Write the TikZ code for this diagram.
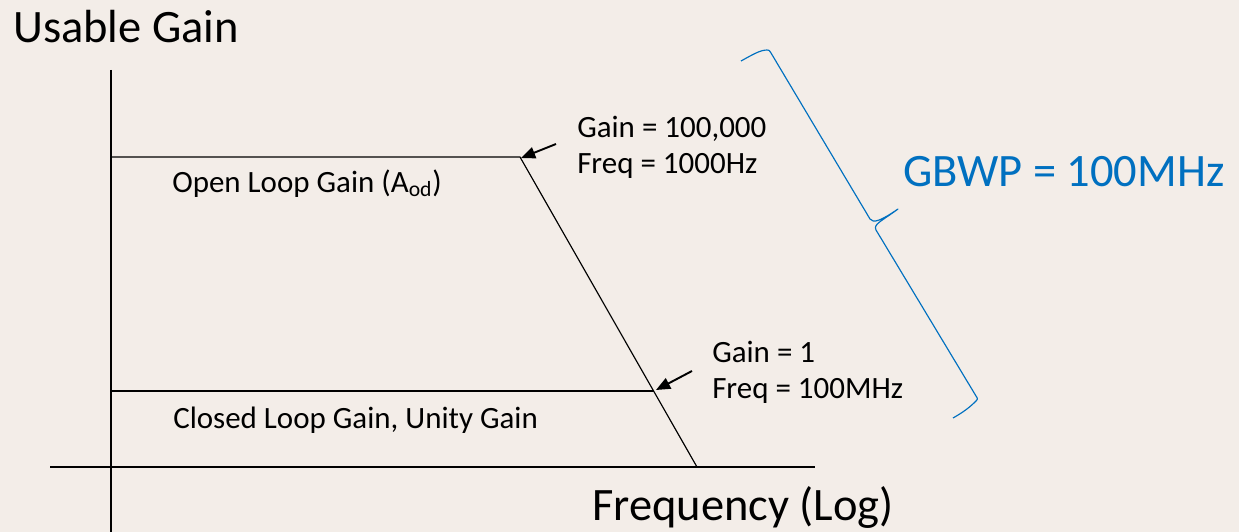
\documentclass[tikz,border=0pt]{standalone}
\usepackage{fontspec}
\setmainfont{Carlito}
\usetikzlibrary{arrows.meta, positioning}
\definecolor{slidebg}{RGB}{243,237,232}
\definecolor{gbwpblue}{HTML}{0070C0}
\tikzset{
  axisline/.style={black,line width=0.9pt},
  gainline/.style={black,line width=0.9pt},
  ptrarrow/.style={-{Triangle[length=11pt,width=9pt]},line width=1.5pt,black},
  smalltxt/.style={inner sep=0pt,anchor=base west,font=\fontsize{24}{28}\selectfont},
  bigtxt/.style={smalltxt,font=\fontsize{36}{42}\selectfont},
  gbwpbrace/.style={gbwpblue,line width=0.9pt,line join=round},
}

\begin{document}
\begin{tikzpicture}[x=0.7748pt,y=-0.7748pt]
  \fill[slidebg] (0,0) rectangle (1239,532);
  \useasboundingbox (0,0) rectangle (1239,532);
  % axes
  \coordinate (yTop) at (111,70);
  \coordinate (yBot) at (111,532);
  \coordinate (xLeft) at (50,467);
  \coordinate (xRight) at (815,467);
  \draw[axisline] (yTop) -- (yBot);
  \draw[axisline] (xLeft) -- (xRight);
  % gain curves
  \coordinate (olStart) at (111,157);
  \coordinate (olKnee) at (520,157);
  \coordinate (rollEnd) at (697,467);
  \coordinate (clStart) at (111,391);
  \coordinate (clMeet) at (654,391);
  \draw[gainline] (olStart) -- (olKnee) -- (rollEnd);
  \draw[gainline] (clStart) -- (clMeet);
  % labels
  \node[bigtxt] (tTitle) at (13,43) {Usable Gain};
  \node[bigtxt] (tFreq) at (592,520) {Frequency (Log)};
  \node[smalltxt] (tOpen) at (172,192) {Open Loop Gain (A\textsubscript{od})};
  \node[smalltxt] (tClosed) at (173,428) {Closed Loop Gain, Unity Gain};
  \node[smalltxt] (tKneeGain) at (577,137) {Gain = 100,000};
  \node[smalltxt] (tKneeFreq) at (577,173) {Freq = 1000Hz};
  \node[smalltxt] (tUnityGain) at (712,362) {Gain = 1};
  \node[smalltxt] (tUnityFreq) at (712,398) {Freq = 100MHz};
  \node[bigtxt,text=gbwpblue] (tGbwp) at (903,187) {GBWP = 100MHz};
  % pointers
  \coordinate (kneeTail) at (556,144);
  \coordinate (kneeTip) at (521,158);
  \coordinate (unityTail) at (692,371);
  \coordinate (unityTip) at (656,390);
  \draw[ptrarrow] (kneeTail) -- (kneeTip);
  \draw[ptrarrow] (unityTail) -- (unityTip);
  % brace
  \coordinate (braceTop) at (741,61);
  \coordinate (braceTip) at (898,209);
  \coordinate (braceBot) at (953,418);
  \draw[gbwpbrace] (braceTop) .. controls (752,55) and (760,50) .. (767,50)
    .. controls (769,50) .. (771,53) -- (870,219)
    .. controls (873,224) and (882,220) .. (braceTip)
    .. controls (882,221) and (873,224) .. (876,230) -- (976,396)
    .. controls (978,399) .. (975,402) .. controls (968,409) and (960,414) .. (braceBot);
\end{tikzpicture}
\end{document}
